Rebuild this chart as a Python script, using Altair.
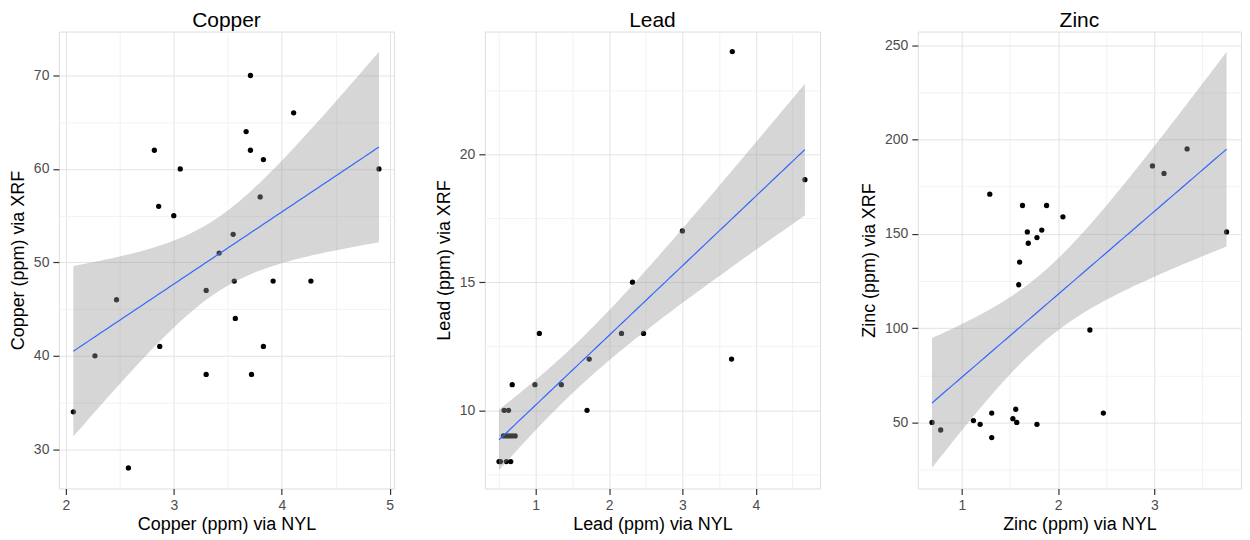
import altair as alt
import numpy as np
import pandas as pd

# ---------------- data ----------------
cu_nyl = [2.82, 3.71, 4.11, 3.67, 3.71, 3.83, 3.06, 4.90, 3.80, 2.86, 3.00, 3.55, 3.42,
          3.56, 3.92, 4.27, 3.30, 2.47, 3.57, 2.87, 3.83, 2.27, 3.30, 3.72, 2.07, 2.58]
cu_xrf = [62, 70, 66, 64, 62, 61, 60, 60, 57, 56, 55, 53, 51,
          48, 48, 48, 47, 46, 44, 41, 41, 40, 38, 38, 34, 28]

pb_nyl = [3.68, 4.67, 3.00, 2.32, 1.05, 2.17, 2.47, 1.73, 3.67, 0.99, 1.35, 0.68,
          1.70, 0.57, 0.63, 0.56, 0.60, 0.64, 0.68, 0.72, 0.50, 0.52, 0.60, 0.66]
pb_xrf = [24, 19, 17, 15, 13, 13, 13, 12, 12, 11, 11, 11,
          10, 10, 10, 9, 9, 9, 9, 9, 8, 8, 8, 8]

zn_nyl = [1.29, 1.63, 1.88, 2.05, 1.68, 1.83, 1.78, 1.69, 1.60, 2.98, 3.10, 3.34, 3.75,
          1.59, 2.33, 0.69, 0.78, 1.12, 1.19, 1.31, 1.31, 1.53, 1.56, 1.57, 1.78, 2.47]
zn_xrf = [171, 165, 165, 159, 151, 152, 148, 145, 135, 186, 182, 195, 151,
          123, 99, 50, 46, 51, 49, 55, 42, 52, 57, 50, 49, 55]

panel_titles = ["Copper", "Lead", "Zinc"]
x_titles = ["Copper (ppm) via NYL", "Lead (ppm) via NYL", "Zinc (ppm) via NYL"]
y_titles = ["Copper (ppm) via XRF", "Lead (ppm) via XRF", "Zinc (ppm) via XRF"]

# axis domains and grid/tick values (major + minor)
cu_xdom, cu_ydom = [1.936, 5.04], [25.8, 74.7]
pb_xdom, pb_ydom = [0.307, 4.876], [6.95, 24.78]
zn_xdom, zn_ydom = [0.542, 3.90], [15.0, 257.2]

cu_xgrid = [2, 2.5, 3, 3.5, 4, 4.5, 5]
cu_ygrid = [30, 35, 40, 45, 50, 55, 60, 65, 70]
pb_xgrid = [0.5, 1, 1.5, 2, 2.5, 3, 3.5, 4, 4.5]
pb_ygrid = [7.5, 10, 12.5, 15, 17.5, 20, 22.5]
zn_xgrid = [1, 1.5, 2, 2.5, 3, 3.5]
zn_ygrid = [25, 50, 75, 100, 125, 150, 175, 200, 225, 250]

# major steps (labelled ticks)
cu_major = (1, 10)
pb_major = (1, 5)
zn_major = (1, 50)

FONT = "Liberation Sans"
T975 = {18: 2.101, 19: 2.093, 20: 2.086, 21: 2.080, 22: 2.074, 23: 2.069,
        24: 2.064, 25: 2.060, 26: 2.056, 27: 2.052, 28: 2.048}


def fit_band(x, y, n_grid=80):
    x = np.asarray(x, float)
    y = np.asarray(y, float)
    n = len(x)
    b, a = np.polyfit(x, y, 1)
    resid = y - (a + b * x)
    s = np.sqrt((resid ** 2).sum() / (n - 2))
    xm = x.mean()
    sxx = ((x - xm) ** 2).sum()
    xs = np.linspace(x.min(), x.max(), n_grid)
    fit = a + b * xs
    se = s * np.sqrt(1.0 / n + (xs - xm) ** 2 / sxx)
    t = T975[n - 2]
    return pd.DataFrame({"nyl": xs, "fit": fit, "lo": fit - t * se, "hi": fit + t * se})


def make_axis(title, values, major, title_pad):
    test = f"datum.value % {major} === 0"
    return alt.Axis(
        title=title,
        values=values,
        labelExpr=f"{test} ? ('' + datum.value) : ''",
        labelOverlap=False,
        labelFlush=False,
        labelFont=FONT,
        labelFontSize=14,
        labelColor="#4d4d4d",
        labelPadding=4,
        tickSize=6,
        tickWidth=1.2,
        tickColor={"condition": {"test": test, "value": "#333333"}, "value": "transparent"},
        grid=True,
        gridColor={"condition": {"test": test, "value": "#e3e3e3"}, "value": "#f2f2f2"},
        gridWidth=1,
        domain=False,
        titleFont=FONT,
        titleFontSize=18,
        titleFontWeight="normal",
        titleColor="black",
        titlePadding=title_pad,
    )


def panel(i, nyl, xrf, xdom, ydom, xgrid, ygrid, major, w, h):
    pts = pd.DataFrame({"nyl": nyl, "xrf": xrf})
    band = fit_band(nyl, xrf)
    xs = alt.Scale(domain=xdom, nice=False, zero=False)
    ys = alt.Scale(domain=ydom, nice=False, zero=False)
    xax = make_axis(x_titles[i], xgrid, major[0], 3)
    yax = make_axis(y_titles[i], ygrid, major[1], 6)
    X = lambda f: alt.X(f, type="quantitative", scale=xs, axis=xax, title=x_titles[i])
    Y = lambda f: alt.Y(f, type="quantitative", scale=ys, axis=yax, title=y_titles[i])
    p = alt.Chart(pts).mark_circle(size=28, color="black", opacity=1).encode(
        x=X("nyl"), y=Y("xrf"))
    b = alt.Chart(band).mark_area(color="#999999", opacity=0.4).encode(
        x=X("nyl"), y=Y("lo"), y2="hi")
    l = alt.Chart(band).mark_line(color="#3366FF", strokeWidth=1.2).encode(
        x=X("nyl"), y=Y("fit"))
    return alt.layer(p, b, l).properties(
        width=w, height=h,
        title=alt.TitleParams(panel_titles[i], font=FONT, fontSize=21, fontWeight="normal",
                              color="black", anchor="middle", frame="group", offset=1),
    )


H = 458
c1 = panel(0, cu_nyl, cu_xrf, cu_xdom, cu_ydom, cu_xgrid, cu_ygrid, cu_major, 336, H)
c2 = panel(1, pb_nyl, pb_xrf, pb_xdom, pb_ydom, pb_xgrid, pb_ygrid, pb_major, 336, H)
c3 = panel(2, zn_nyl, zn_xrf, zn_xdom, zn_ydom, zn_xgrid, zn_ygrid, zn_major, 324, H)

chart = alt.hconcat(c1, c2, c3, spacing=39).properties(
    padding={"left": 0, "top": 0, "right": 0, "bottom": 0}
).configure_view(stroke="#7f7f7f", strokeWidth=1).configure(font=FONT, background="white")

chart.save("out.html", embed_options={"renderer": "svg", "actions": False})
